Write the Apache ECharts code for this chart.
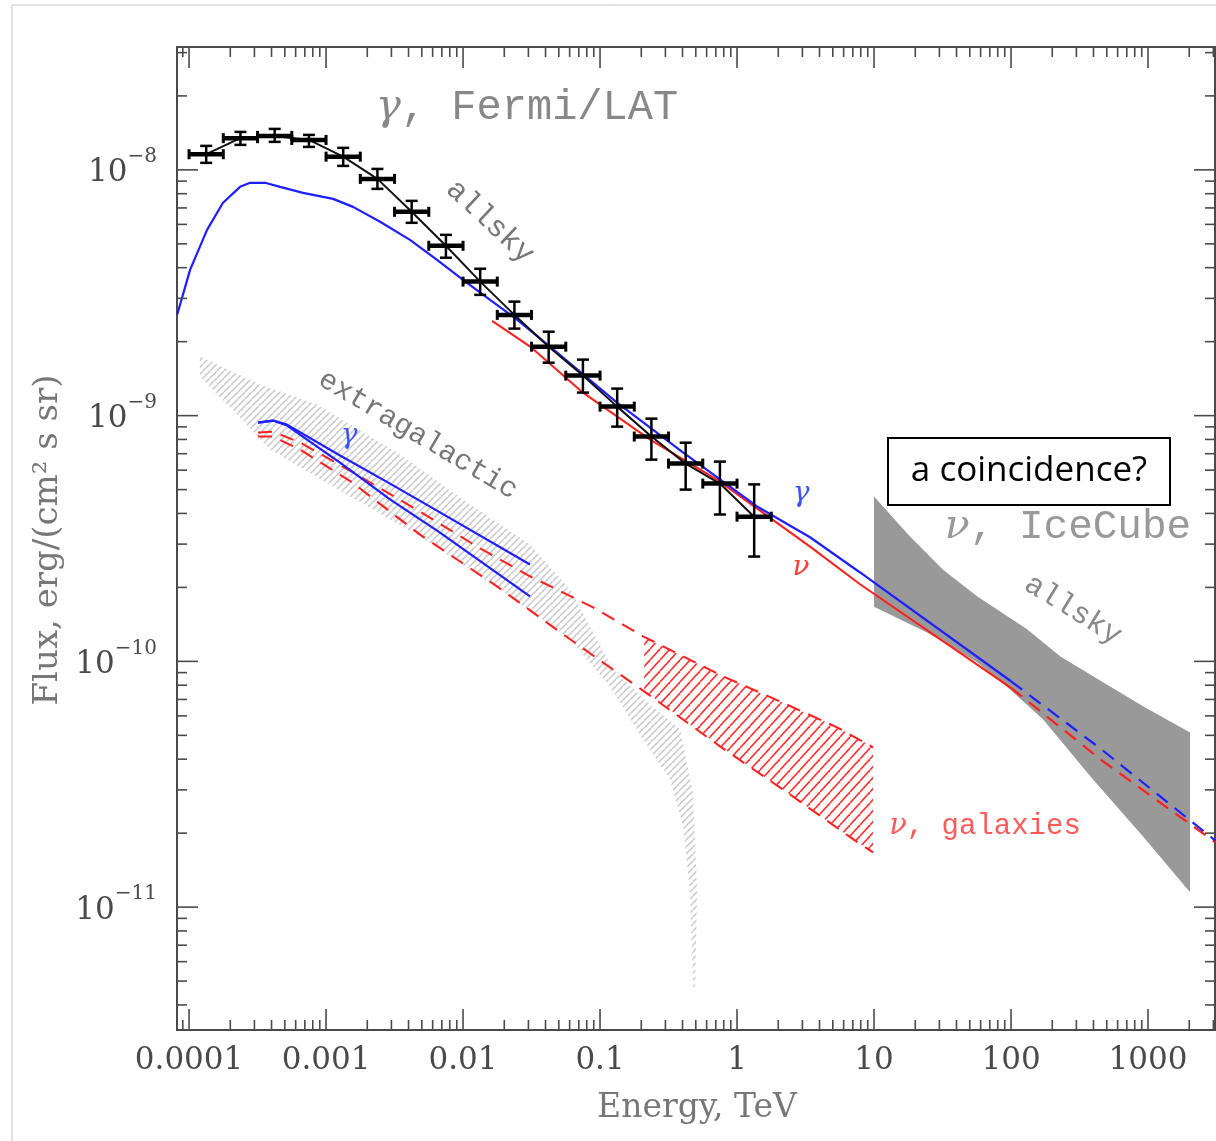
<!DOCTYPE html>
<html><head><meta charset="utf-8">
<script src="https://cdn.jsdelivr.net/npm/echarts@6/dist/echarts.min.js"></script>
<style>html,body{margin:0;padding:0;background:#fff}#c{width:1216px;height:1141px}</style>
</head><body><div id="c"></div>
<script>
// ---------------- data ----------------
const xMajor = [1e-4, 1e-3, 1e-2, 1e-1, 1, 10, 100, 1000];
const xMajorLabels = ['0.0001', '0.001', '0.01', '0.1', '1', '10', '100', '1000'];
const yMajor = [1e-11, 1e-10, 1e-9, 1e-8];
const yMajorExp = ['−11', '−10', '−9', '−8'];

// Fermi/LAT allsky points
const fermiE     = [1.334e-4, 2.371e-4, 4.217e-4, 7.499e-4, 1.334e-3, 2.371e-3, 4.217e-3, 7.499e-3, 1.334e-2, 2.371e-2, 4.217e-2, 7.499e-2, 0.1334, 0.2371, 0.4217, 0.7499, 1.334];
const fermiELow  = [1.0e-4, 1.778e-4, 3.162e-4, 5.623e-4, 1.0e-3, 1.778e-3, 3.162e-3, 5.623e-3, 1.0e-2, 1.778e-2, 3.162e-2, 5.623e-2, 0.1, 0.1778, 0.3162, 0.5623, 1.0];
const fermiEHigh = [1.778e-4, 3.162e-4, 5.623e-4, 1.0e-3, 1.778e-3, 3.162e-3, 5.623e-3, 1.0e-2, 1.778e-2, 3.162e-2, 5.623e-2, 0.1, 0.1778, 0.3162, 0.5623, 1.0, 1.778];
const fermiFlux     = [1.158e-8, 1.346e-8, 1.375e-8, 1.324e-8, 1.132e-8, 9.19e-9, 6.75e-9, 4.91e-9, 3.51e-9, 2.57e-9, 1.908e-9, 1.455e-9, 1.088e-9, 8.22e-10, 6.38e-10, 5.29e-10, 3.88e-10];
const fermiFluxLow  = [1.068e-8, 1.264e-8, 1.30e-8, 1.24e-8, 1.038e-8, 8.37e-9, 6.09e-9, 4.39e-9, 3.10e-9, 2.26e-9, 1.642e-9, 1.241e-9, 9.02e-10, 6.62e-10, 5.0e-10, 3.96e-10, 2.67e-10];
const fermiFluxHigh = [1.252e-8, 1.427e-8, 1.468e-8, 1.388e-8, 1.229e-8, 1.009e-8, 7.48e-9, 5.44e-9, 3.96e-9, 2.91e-9, 2.195e-9, 1.69e-9, 1.288e-9, 9.72e-10, 7.76e-10, 6.50e-10, 5.25e-10];

// allsky model curves
const gammaAllsky = [[8.2e-5,2.58e-9],[1.017e-4,3.92e-9],[1.353e-4,5.70e-9],[1.77e-4,7.35e-9],[2.357e-4,8.53e-9],[2.79e-4,8.86e-9],[3.59e-4,8.86e-9],[4.62e-4,8.53e-9],[6.79e-4,8.06e-9],[1.125e-3,7.62e-9],[1.574e-3,7.07e-9],[2.48e-3,6.15e-9],[4.10e-3,5.19e-9],[6.46e-3,4.30e-9],[1.0e-2,3.57e-9],[1.574e-2,2.96e-9],[2.48e-2,2.46e-9],[4.31e-2,1.908e-9],[0.133,1.13e-9],[0.403,7.08e-10],[1.40,4.27e-10],[3.41,3.20e-10],[7.91,2.30e-10],[100,8.3e-11]];
const gammaAllskyExtrap = [[100,8.3e-11],[446.7,4.43e-11],[3083,1.87e-11]];
const nuAllsky = [[1.63e-2,2.43e-9],[3.09e-2,1.91e-9],[7.51e-2,1.24e-9],[0.232,7.99e-10],[0.714,5.49e-10],[3.41,2.93e-10],[7.91,2.06e-10],[100,7.8e-11]];
const nuAllskyExtrap = [[100,7.8e-11],[469.5,3.92e-11],[3083,1.84e-11]];

// extragalactic
const gammaExtraUpper = [[3.19e-4,9.36e-10],[4.10e-4,9.55e-10],[5.19e-4,9.19e-10],[1.265e-3,6.88e-10],[2.93e-3,5.29e-10],[6.79e-3,4.04e-10],[3.08e-2,2.48e-10]];
const gammaExtraLower = [[3.19e-4,9.36e-10],[4.10e-4,9.55e-10],[5.19e-4,9.11e-10],[1.265e-3,6.44e-10],[2.93e-3,4.56e-10],[6.79e-3,3.34e-10],[3.08e-2,1.84e-10]];
const nuExtraUpper = [[3.19e-4,8.53e-10],[4.10e-4,8.61e-10],[6.46e-4,7.77e-10],[1.496e-3,5.97e-10],[4.85e-3,4.07e-10],[1.265e-2,2.93e-10],[3.08e-2,2.22e-10],[8.89e-2,1.66e-10],[0.206,1.265e-10],[0.791,8.69e-11],[2.06,6.87e-11],[5.37,5.39e-11],[9.84,4.47e-11]];
const nuExtraLower = [[3.19e-4,8.22e-10],[4.10e-4,8.22e-10],[6.46e-4,7.28e-10],[1.549e-3,5.35e-10],[4.85e-3,3.28e-10],[1.77e-2,2.02e-10],[6.04e-2,1.23e-10],[0.220,7.41e-11],[0.751,4.51e-11],[2.32,2.93e-11],[7.03,1.89e-11],[9.84,1.67e-11]];
const galaxyBandUpper = [[0.21,1.25e-10],[0.791,8.69e-11],[2.06,6.87e-11],[5.37,5.39e-11],[9.84,4.47e-11]];
const galaxyBandLower = [[0.21,7.6e-11],[0.751,4.51e-11],[2.32,2.93e-11],[7.03,1.89e-11],[9.84,1.67e-11]];
const egbUpper = [[1.20e-4,1.74e-9],[3.30e-4,1.34e-9],[8.59e-4,1.11e-9],[3.47e-3,6.94e-10],[1.0e-2,4.56e-10],[3.08e-2,2.99e-10],[6.04e-2,1.96e-10],[0.1245,9.27e-11],[0.232,6.68e-11],[0.384,5.29e-11],[0.477,2.93e-11],[0.511,1.15e-11],[0.494,4.65e-12]];
const egbLower = [[1.20e-4,1.44e-9],[2.17e-4,1.03e-9],[3.90e-4,7.28e-10],[1.496e-3,4.69e-10],[4.85e-3,3.22e-10],[1.86e-2,1.96e-10],[6.04e-2,1.23e-10],[0.118,7.91e-11],[0.206,4.82e-11],[0.324,3.31e-11],[0.404,2.13e-11],[0.454,1.15e-11],[0.477,4.77e-12]];

// IceCube allsky band
const iceUpper = [[10,4.69e-10],[18.3,3.22e-10],[31.9,2.36e-10],[56.5,1.84e-10],[131,1.35e-10],[228,1.05e-10],[397,8.69e-11],[920,6.56e-11],[2028,5.14e-11]];
const iceLower = [[10,1.67e-10],[24.4,1.31e-10],[56.5,9.91e-11],[98.4,7.69e-11],[171,5.81e-11],[397,3.31e-11],[920,1.94e-11],[2028,1.15e-11]];

// ---------------- chart ----------------
const X_MIN = 8.166e-5, X_MAX = 3083, Y_MIN = 3.1623e-12, Y_MAX = 3.1623e-8;
const AXIS_COLOR = '#4a4a4a';
const BLUE = '#1e1eff', RED = '#ff1e1e';
const SERIF = '"DejaVu Serif", serif';
const MONO = '"Liberation Mono", monospace';

function makeHatch(color, w, h, lw) {
  const c = document.createElement('canvas');
  c.width = w; c.height = h;
  const g = c.getContext('2d');
  g.strokeStyle = color; g.lineWidth = lw;
  [-w, 0, w].forEach(dx => { g.beginPath(); g.moveTo(dx, h); g.lineTo(dx + w, 0); g.stroke(); });
  return c;
}
const greyHatch = makeHatch('#cdcdcd', 7, 7, 1.6);
const redHatch = makeHatch('#ff3030', 10, 11, 1.6);

function polygonSeries(name, upper, lower, fill, z) {
  const pts = upper.concat(lower.slice().reverse());
  return {
    type: 'custom', name, coordinateSystem: 'cartesian2d', z, clip: true,
    data: [pts[0]],
    renderItem(params, api) {
      return { type: 'polygon', shape: { points: pts.map(p => api.coord(p)) }, style: { fill } };
    }
  };
}
function lineSeries(data, color, width, dashed, z) {
  return {
    type: 'line', data, showSymbol: false, symbol: 'none', z, clip: true,
    lineStyle: { color, width, type: dashed ? [14, 9] : 'solid' }, silent: true
  };
}

const minorX = [], minorY = [];
for (let n = -5; n <= 3; n++) for (let k = 2; k <= 9; k++) {
  const v = k * Math.pow(10, n);
  if (v > X_MIN && v < X_MAX) minorX.push(v);
}
for (let n = -12; n <= -8; n++) for (let k = 2; k <= 9; k++) {
  const v = k * Math.pow(10, n);
  if (v > Y_MIN && v < Y_MAX) minorY.push(v);
}

function renderFrame(params, api) {
  const bl = api.coord([X_MIN, Y_MIN]), tr = api.coord([X_MAX, Y_MAX]);
  const left = bl[0], bottom = bl[1], right = tr[0], top = tr[1];
  const ch = [];
  const tick = (x1, y1, x2, y2) => ch.push({ type: 'line', shape: { x1, y1, x2, y2 }, style: { stroke: AXIS_COLOR, lineWidth: 1.6 } });
  const MAJ = 21, MIN = 10;
  xMajor.forEach((v, i) => {
    const x = api.coord([v, Y_MIN])[0];
    tick(x, bottom, x, bottom - MAJ); tick(x, top, x, top + MAJ);
    ch.push({ type: 'text', x, y: bottom + 31, style: { text: xMajorLabels[i], fontSize: 31, fontFamily: SERIF, fill: '#4a4a4a', align: 'center', verticalAlign: 'middle', textAlign: 'center', textVerticalAlign: 'middle' } });
  });
  minorX.forEach(v => { const x = api.coord([v, Y_MIN])[0]; tick(x, bottom, x, bottom - MIN); tick(x, top, x, top + MIN); });
  yMajor.forEach((v, i) => {
    const y = api.coord([X_MIN, v])[1];
    tick(left, y, left + MAJ, y); tick(right, y, right - MAJ, y);
    ch.push({ type: 'text', x: left - 20, y: y - 2, style: {
      text: '{b|10}{s|' + yMajorExp[i] + '}', align: 'right', verticalAlign: 'middle', textAlign: 'right', textVerticalAlign: 'middle',
      rich: { b: { fontSize: 31, fontFamily: SERIF, fill: '#4a4a4a', color: '#4a4a4a', lineHeight: 42, verticalAlign: 'bottom' },
              s: { fontSize: 20, fontFamily: SERIF, fill: '#4a4a4a', color: '#4a4a4a', lineHeight: 22, verticalAlign: 'top' } } } });
  });
  minorY.forEach(v => { const y = api.coord([X_MIN, v])[1]; tick(left, y, left + MIN, y); tick(right, y, right - MIN, y); });
  return { type: 'group', children: ch };
}

function renderErr(params, api) {
  const c = api.coord([api.value(0), api.value(1)]);
  const l = api.coord([api.value(2), api.value(1)]);
  const r = api.coord([api.value(3), api.value(1)]);
  const lo = api.coord([api.value(0), api.value(4)]);
  const hi = api.coord([api.value(0), api.value(5)]);
  const st = { stroke: '#000', lineWidth: 4.5 };
  const sc = { stroke: '#000', lineWidth: 3 };
  const sv = { stroke: '#000', lineWidth: 2.5 };
  return { type: 'group', children: [
    { type: 'line', shape: { x1: l[0], y1: c[1], x2: r[0], y2: c[1] }, style: st },
    { type: 'line', shape: { x1: l[0], y1: c[1] - 5, x2: l[0], y2: c[1] + 5 }, style: sc },
    { type: 'line', shape: { x1: r[0], y1: c[1] - 5, x2: r[0], y2: c[1] + 5 }, style: sc },
    { type: 'line', shape: { x1: c[0], y1: hi[1], x2: c[0], y2: lo[1] }, style: sv },
    { type: 'line', shape: { x1: c[0] - 6, y1: hi[1], x2: c[0] + 6, y2: hi[1] }, style: sv },
    { type: 'line', shape: { x1: c[0] - 6, y1: lo[1], x2: c[0] + 6, y2: lo[1] }, style: sv }
  ] };
}

const errData = fermiE.map((e, i) => [e, fermiFlux[i], fermiELow[i], fermiEHigh[i], fermiFluxLow[i], fermiFluxHigh[i]]);
const fermiLine = fermiE.map((e, i) => [e, fermiFlux[i]]);

const txt = (text, x, y, size, fam, fill, rotDeg, extra) => ({
  type: 'text', x, y, rotation: (rotDeg || 0) * Math.PI / 180, z: 100,
  style: Object.assign({ text, fontSize: size, fontFamily: fam, fill, align: 'center', verticalAlign: 'middle', textAlign: 'center', textVerticalAlign: 'middle' }, extra || {})
});
const greekRich = (size, fill) => ({ rich: {
  g: { fontSize: size, fontFamily: SERIF, fontStyle: 'italic', fill, color: fill },
  t: { fontSize: size, fontFamily: MONO, fill, color: fill }
} });

const chart = echarts.init(document.getElementById('c'), null, { renderer: 'canvas' });
chart.setOption({
  animation: false,
  backgroundColor: '#fff',
  grid: { left: 177, right: 1, top: 47, bottom: 111, show: true, borderColor: AXIS_COLOR, borderWidth: 2, containLabel: false, outerBoundsMode: 'none' },
  xAxis: { type: 'log', logBase: 10, min: X_MIN, max: X_MAX, axisLine: { show: false }, axisTick: { show: false }, axisLabel: { show: false }, splitLine: { show: false } },
  yAxis: { type: 'log', logBase: 10, min: Y_MIN, max: Y_MAX, axisLine: { show: false }, axisTick: { show: false }, axisLabel: { show: false }, splitLine: { show: false } },
  series: [
    polygonSeries('egb', egbUpper, egbLower, { image: greyHatch, repeat: 'repeat' }, 1),
    polygonSeries('galaxies', galaxyBandUpper, galaxyBandLower, { image: redHatch, repeat: 'repeat' }, 2),
    polygonSeries('icecube', iceUpper, iceLower, '#999999', 3),
    lineSeries(nuExtraUpper, RED, 2, true, 4),
    lineSeries(nuExtraLower, RED, 2, true, 4),
    lineSeries(gammaExtraUpper, BLUE, 2.2, false, 5),
    lineSeries(gammaExtraLower, BLUE, 2.2, false, 5),
    lineSeries(nuAllsky, RED, 2, false, 6),
    lineSeries(nuAllskyExtrap, RED, 2.2, true, 6),
    lineSeries(gammaAllsky, BLUE, 2.2, false, 7),
    lineSeries(gammaAllskyExtrap, BLUE, 2.2, true, 7),
    lineSeries(fermiLine, '#111', 2, false, 8),
    { type: 'custom', coordinateSystem: 'cartesian2d', data: errData, renderItem: renderErr, z: 9, clip: false },
    { type: 'custom', coordinateSystem: 'cartesian2d', data: [[1, 1e-9]], renderItem: renderFrame, z: 10, clip: false, silent: true }
  ],
  graphic: [
    { type: 'rect', shape: { x: 12, y: 5, width: 1240, height: 1200 }, style: { fill: 'none', stroke: '#c4c4c4', lineWidth: 1 }, z: 0 },
    txt('Energy, TeV', 697, 1108, 33, SERIF, '#777'),
    txt('Flux, erg/(cm² s sr)', 48, 540, 34, SERIF, '#777', 90),
    txt('{g|γ}{t|, Fermi/LAT}', 527, 108, 42, MONO, '#888', 0, greekRich(42, '#888')),
    txt('allsky', 490, 222, 30, MONO, '#777', -43),
    txt('extragalactic', 418, 435, 29, MONO, '#777', -30.7),
    txt('γ', 349, 436, 28, SERIF, '#3a55ff', 0, { fontStyle: 'italic' }),
    txt('γ', 801, 494, 28, SERIF, '#3a55ff', 0, { fontStyle: 'italic' }),
    txt('ν', 801, 568, 28, SERIF, '#ff3a3a', 0, { fontStyle: 'italic' }),
    txt('{g|ν}{t|, IceCube}', 1068, 527, 41, MONO, '#999', 0, greekRich(41, '#999')),
    txt('allsky', 1073, 610, 30, MONO, '#888', -31.6),
    txt('{g|ν}{t|, galaxies}', 985, 826, 29, MONO, '#ff5a5a', 0, greekRich(29, '#ff5a5a')),
    { type: 'rect', shape: { x: 888, y: 438, width: 282, height: 67 }, style: { fill: '#fff', stroke: '#000', lineWidth: 2 }, z: 100 },
    txt('a coincidence?', 1029, 471, 35, '"Open Sans", sans-serif', '#000')
  ]
});
</script></body></html>
